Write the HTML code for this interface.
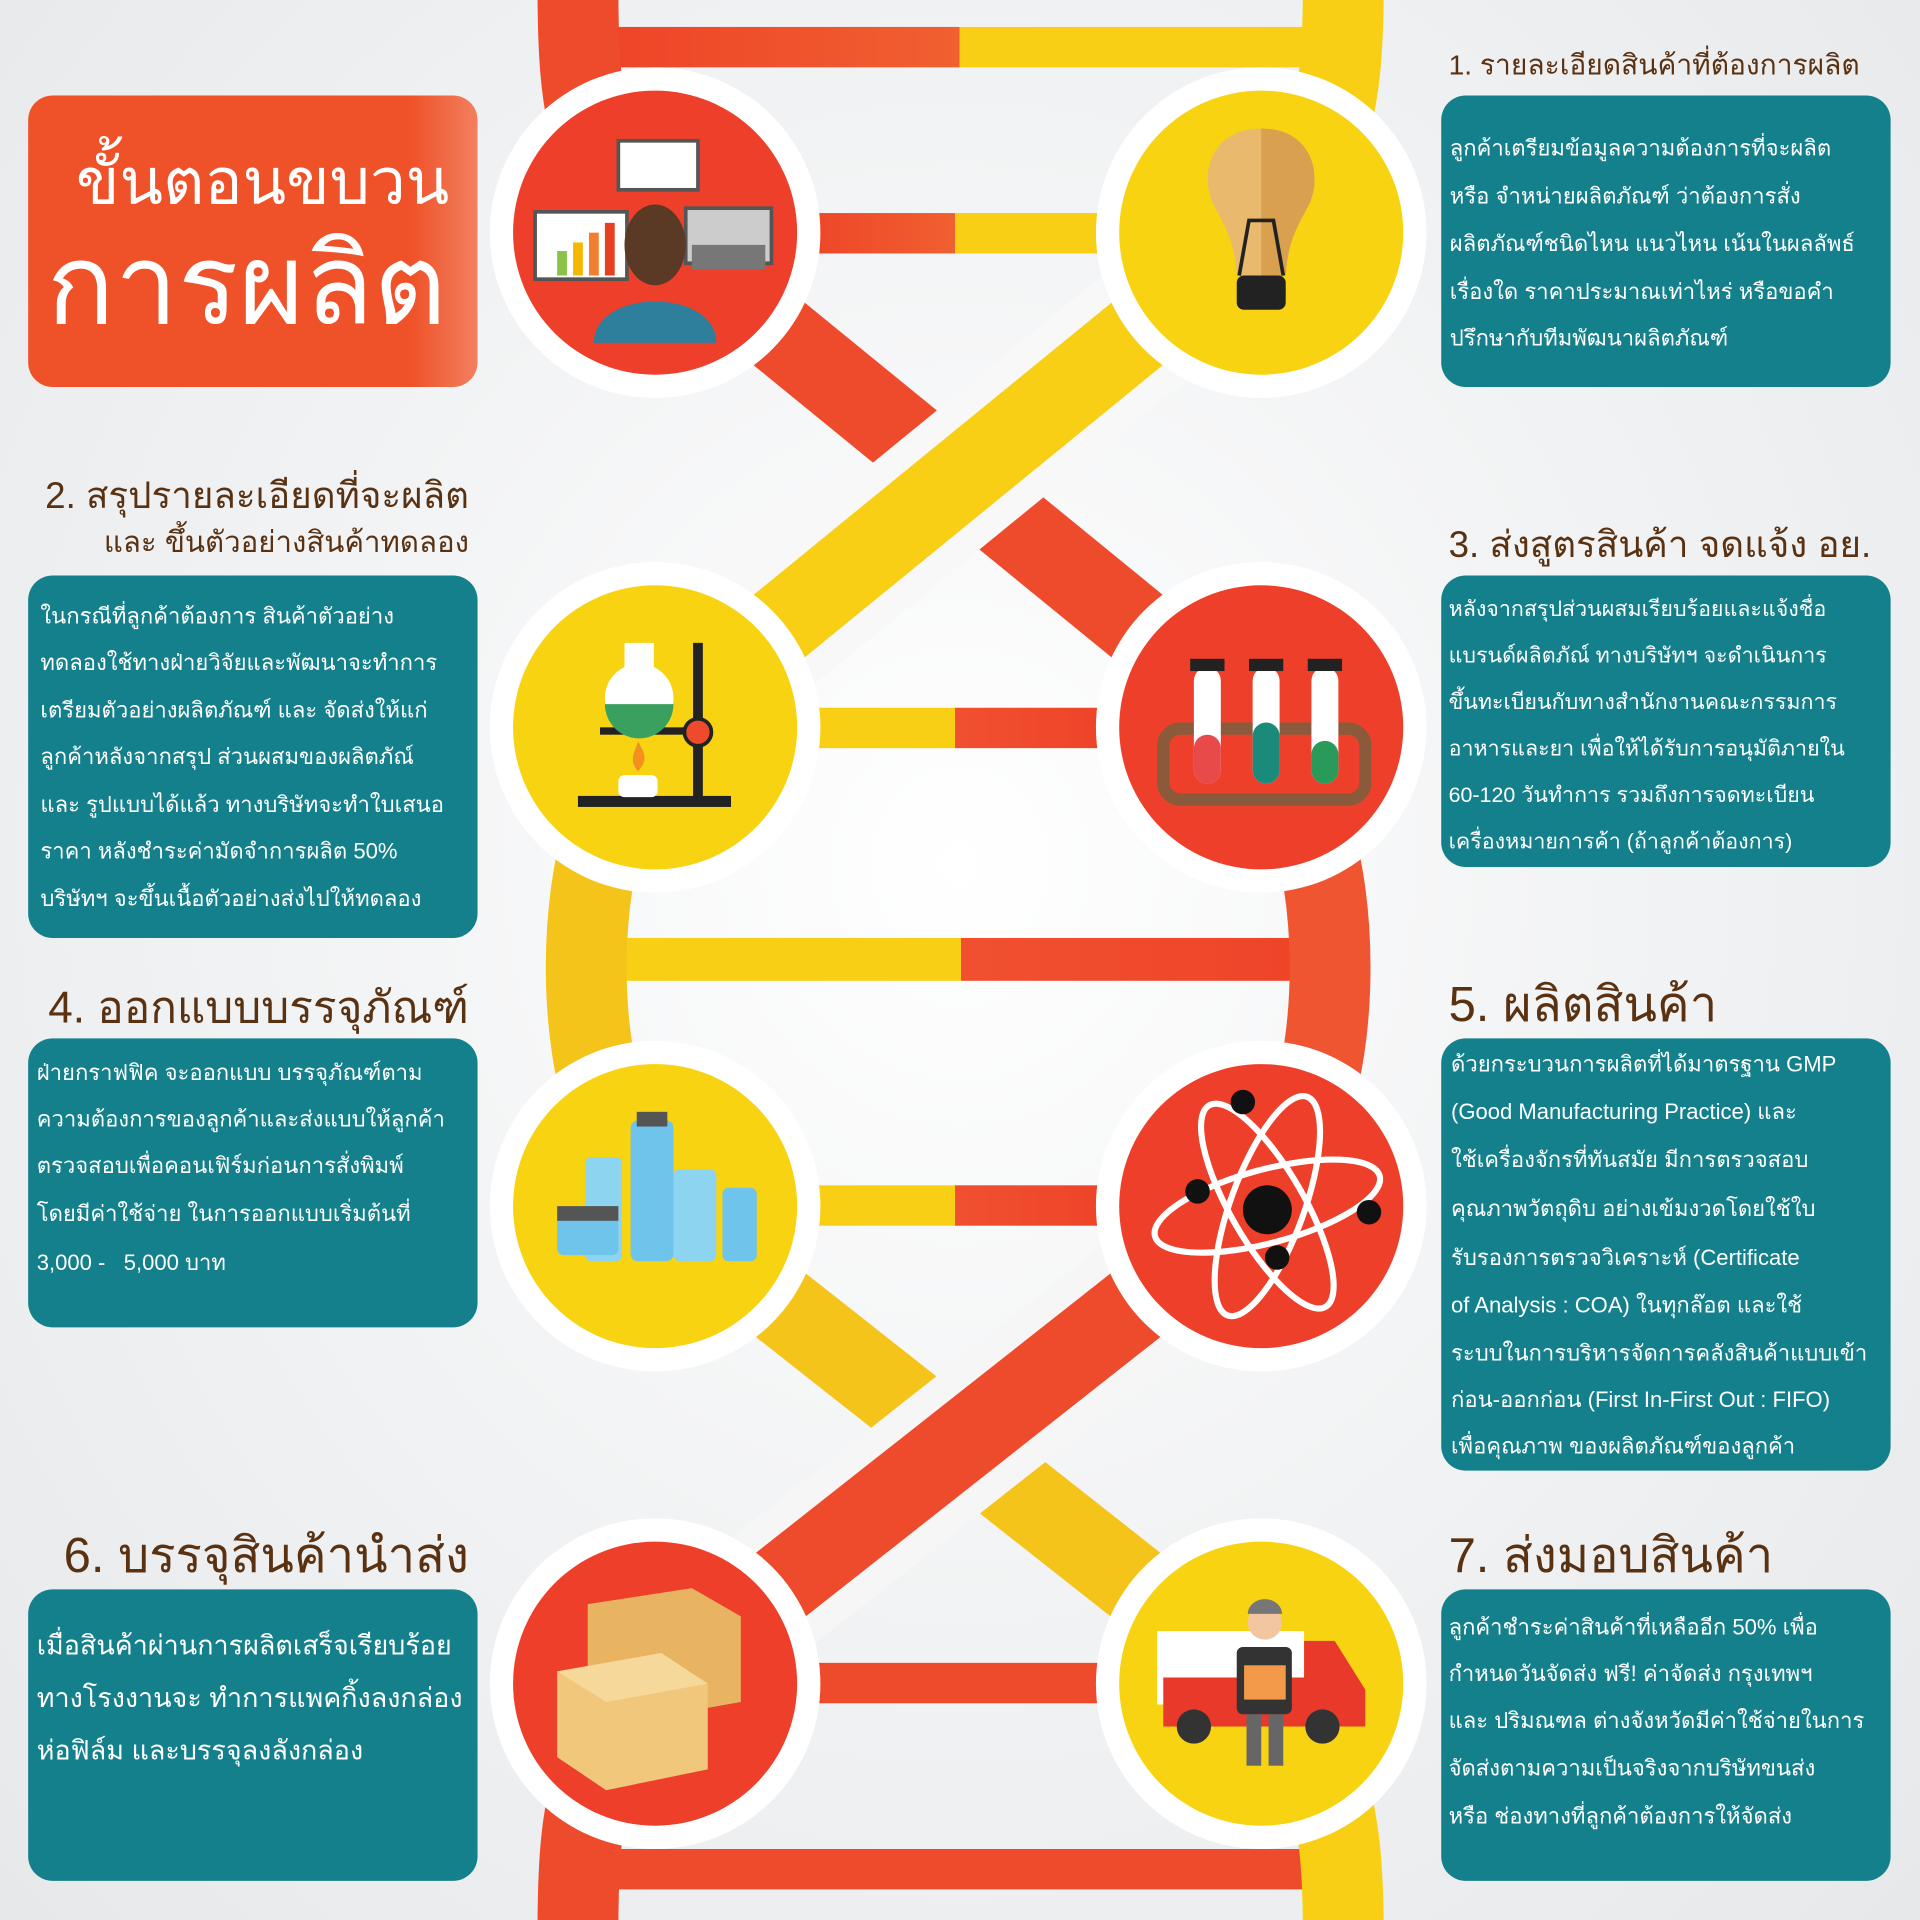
<!DOCTYPE html>
<html><head><meta charset="utf-8">
<style>
html,body{margin:0;padding:0;width:1920px;height:1920px;overflow:hidden;background:#eceef0;}
#w{position:absolute;left:0;top:0;width:1568px;height:1568px;transform:scale(1.22449);transform-origin:0 0;
background:radial-gradient(ellipse at 50% 45%,#ffffff 0%,#f4f5f6 40%,#e6e8ea 100%);
font-family:"Liberation Sans","Noto Sans CJK SC",sans-serif;}
svg{position:absolute;left:0;top:0}
.box{position:absolute;background:#13808c;border-radius:20px;}
.t{position:absolute;white-space:nowrap;color:#fff;}
.h{position:absolute;white-space:nowrap;color:#5a3212;}
.ln{position:absolute;white-space:nowrap;color:#fff;font-size:18px;}
</style></head><body><div id="w">
<svg width="1568" height="1568" viewBox="0 0 1568 1568">
<defs>
<linearGradient id="ry" x1="0" x2="1"><stop offset="0" stop-color="#ee4328"/><stop offset="0.5" stop-color="#f06030"/><stop offset="0.5" stop-color="#f8cf14"/><stop offset="1" stop-color="#f8cf14"/></linearGradient>
<linearGradient id="yr" x1="0" x2="1"><stop offset="0" stop-color="#f8cf14"/><stop offset="0.5" stop-color="#f8cf14"/><stop offset="0.5" stop-color="#f05030"/><stop offset="1" stop-color="#ee4328"/></linearGradient>
</defs>
<rect x="487" y="22" width="593" height="33" fill="url(#ry)"/>
<rect x="650" y="174" width="260" height="33" fill="url(#ry)"/>
<rect x="650" y="578" width="260" height="33" fill="url(#yr)"/>
<rect x="475" y="766" width="620" height="35" fill="url(#yr)"/>
<rect x="650" y="968" width="260" height="33" fill="url(#yr)"/>
<rect x="650" y="1358" width="260" height="33" fill="#ee4a2c"/>
<rect x="487" y="1510" width="593" height="33" fill="#ee4a2c"/>
<path d="M472 -10 C472 90 480 140 535 190" stroke="#ee4a2c" stroke-width="66" fill="none"/>
<path d="M1097 -10 C1097 90 1085 140 1030 190" stroke="#f8cf14" stroke-width="66" fill="none"/>
<path d="M535 594 C460 680 460 900 535 985" stroke="#f5c41a" stroke-width="66" fill="none"/>
<path d="M1030 594 C1105 680 1105 900 1030 985" stroke="#ee5530" stroke-width="66" fill="none"/>
<path d="M472 1578 C472 1478 480 1428 535 1375" stroke="#ee4a2c" stroke-width="66" fill="none"/>
<path d="M1097 1578 C1097 1478 1085 1428 1030 1375" stroke="#f8cf14" stroke-width="66" fill="none"/>
<line x1="535" y1="190" x2="1030" y2="594" stroke="#ee4a2c" stroke-width="66"/>
<line x1="1030" y1="190" x2="535" y2="594" stroke="#f8f8f8" stroke-width="110"/>
<line x1="1030" y1="190" x2="535" y2="594" stroke="#f8cf14" stroke-width="66"/>
<line x1="535" y1="985" x2="1030" y2="1375" stroke="#f5c41a" stroke-width="66"/>
<line x1="1030" y1="985" x2="535" y2="1375" stroke="#f6f6f7" stroke-width="110"/>
<line x1="1030" y1="985" x2="535" y2="1375" stroke="#ee4a2c" stroke-width="66"/>
<g fill="#fff">
<circle cx="535" cy="190" r="135"/><circle cx="1030" cy="190" r="135"/>
<circle cx="535" cy="594" r="135"/><circle cx="1030" cy="594" r="135"/>
<circle cx="535" cy="985" r="135"/><circle cx="1030" cy="985" r="135"/>
<circle cx="535" cy="1375" r="135"/><circle cx="1030" cy="1375" r="135"/>
</g>
<circle cx="535" cy="190" r="116" fill="#ee3f2a"/>
<circle cx="1030" cy="190" r="116" fill="#f8d312"/>
<circle cx="535" cy="594" r="116" fill="#f8d312"/>
<circle cx="1030" cy="594" r="116" fill="#ee3f2a"/>
<circle cx="535" cy="985" r="116" fill="#f8d312"/>
<circle cx="1030" cy="985" r="116" fill="#ee3f2a"/>
<circle cx="535" cy="1375" r="116" fill="#ee3f2a"/>
<circle cx="1030" cy="1375" r="116" fill="#f8d312"/>
<rect x="505" y="115" width="65" height="40" fill="#fff" stroke="#555" stroke-width="3"/>
<rect x="437" y="173" width="75" height="55" fill="#fff" stroke="#555" stroke-width="3"/>
<rect x="455" y="205" width="8" height="20" fill="#8bc34a"/><rect x="468" y="198" width="8" height="27" fill="#f5b800"/><rect x="481" y="190" width="8" height="35" fill="#f08030"/><rect x="494" y="182" width="8" height="43" fill="#e64020"/>
<rect x="560" y="170" width="70" height="45" fill="#ccc" stroke="#555" stroke-width="3"/>
<rect x="565" y="200" width="60" height="20" fill="#777"/>
<path d="M485 280 C485 235 585 235 585 280 Z" fill="#2e7f9c"/>
<ellipse cx="535" cy="200" rx="25" ry="33" fill="#5a3a25"/>
<path d="M1030 105 C990 105 980 140 990 165 C1000 185 1008 195 1010 225 L1050 225 C1052 195 1060 185 1070 165 C1080 140 1070 105 1030 105Z" fill="#e9b96d"/>
<path d="M1030 105 C1070 105 1080 140 1070 165 C1060 185 1052 195 1050 225 L1030 225Z" fill="#d9a050"/>
<rect x="1010" y="225" width="40" height="28" rx="6" fill="#222"/>
<path d="M1012 225 L1020 180 L1040 180 L1048 225" stroke="#222" stroke-width="3" fill="none"/>
<rect x="472" y="650" width="125" height="9" fill="#222"/>
<rect x="566" y="525" width="8" height="128" fill="#222"/>
<rect x="490" y="594" width="85" height="6" fill="#222"/>
<circle cx="570" cy="598" r="11" fill="#ee4a2c" stroke="#222" stroke-width="3"/>
<circle cx="522" cy="570" r="28" fill="#fff"/><rect x="510" y="525" width="24" height="25" fill="#fff"/>
<path d="M494 575 A28 28 0 0 0 550 575 Z" fill="#3aa060"/>
<rect x="505" y="633" width="32" height="18" rx="5" fill="#fff"/>
<path d="M521 630 C512 620 520 612 521 605 C526 615 530 620 521 630Z" fill="#f39020"/>
<rect x="950" y="595" width="165" height="58" rx="14" fill="none" stroke="#8a5a3a" stroke-width="10"/>
<rect x="975" y="545" width="22" height="95" rx="11" fill="#fff"/><rect x="975" y="600" width="22" height="40" rx="11" fill="#e84a4a"/>
<rect x="1023" y="545" width="22" height="95" rx="11" fill="#fff"/><rect x="1023" y="590" width="22" height="50" rx="11" fill="#1a8a7a"/>
<rect x="1071" y="545" width="22" height="95" rx="11" fill="#fff"/><rect x="1071" y="605" width="22" height="35" rx="11" fill="#2a9a5a"/>
<rect x="972" y="538" width="28" height="10" fill="#222"/><rect x="1020" y="538" width="28" height="10" fill="#222"/><rect x="1068" y="538" width="28" height="10" fill="#222"/>
<rect x="515" y="915" width="35" height="115" rx="6" fill="#6ec4ea"/>
<rect x="550" y="955" width="35" height="75" rx="5" fill="#8dd4f0"/>
<rect x="590" y="970" width="28" height="60" rx="5" fill="#6ec4ea"/>
<rect x="478" y="945" width="30" height="85" rx="5" fill="#8dd4f0"/>
<rect x="455" y="990" width="50" height="35" rx="5" fill="#6ec4ea"/>
<rect x="455" y="985" width="50" height="12" fill="#555"/>
<rect x="520" y="908" width="25" height="12" fill="#555"/>
<g fill="none" stroke="#fff" stroke-width="5">
<ellipse cx="1035" cy="985" rx="95" ry="30" transform="rotate(-15 1035 985)"/>
<ellipse cx="1035" cy="985" rx="95" ry="30" transform="rotate(60 1035 985)"/>
<ellipse cx="1035" cy="985" rx="95" ry="30" transform="rotate(-70 1035 985)"/>
</g>
<circle cx="1035" cy="988" r="20" fill="#111"/>
<circle cx="1015" cy="900" r="10" fill="#111"/><circle cx="978" cy="973" r="10" fill="#111"/><circle cx="1118" cy="990" r="10" fill="#111"/><circle cx="1043" cy="1027" r="10" fill="#111"/>
<polygon points="480,1310 565,1297 605,1320 605,1390 520,1405 480,1380" fill="#e9b462"/>
<polygon points="455,1365 540,1350 578,1375 578,1445 495,1462 455,1435" fill="#f0c77b"/>
<polygon points="455,1365 540,1350 578,1375 495,1390" fill="#f6d89a"/>
<rect x="945" y="1332" width="120" height="60" fill="#fff"/>
<path d="M950 1392 L950 1370 L1065 1370 L1065 1340 L1090 1340 L1115 1380 L1115 1410 L950 1410Z" fill="#e8392a"/>
<circle cx="975" cy="1410" r="14" fill="#333"/><circle cx="1080" cy="1410" r="14" fill="#333"/>
<rect x="1010" y="1345" width="45" height="55" rx="5" fill="#333"/>
<rect x="1016" y="1360" width="34" height="28" fill="#f39a4a"/>
<rect x="1018" y="1400" width="12" height="42" fill="#666"/><rect x="1036" y="1400" width="12" height="42" fill="#666"/>
<circle cx="1033" cy="1325" r="14" fill="#f2c6a0"/><path d="M1019 1318 A14 12 0 0 1 1047 1318Z" fill="#777"/>
</svg>

<div class="box" style="left:23px;top:78px;width:367px;height:238px;background:linear-gradient(90deg,#ef5128 85%,#f28060 100%);"></div>
<div class="t" style="left:62px;top:106px;font-size:52px;">ขั้นตอนขบวน</div>
<div class="t" style="left:38px;top:178px;font-size:92px;line-height:110px;">การผลิต</div>

<div class="h" style="right:1185px;top:382px;font-size:30px;">2. สรุปรายละเอียดที่จะผลิต</div>
<div class="h" style="right:1185px;top:423px;font-size:24px;">และ ขึ้นตัวอย่างสินค้าทดลอง</div>
<div class="box" style="left:23px;top:470px;width:367px;height:296px;"></div>
<div class="ln" style="left:33px;top:488px;">ในกรณีที่ลูกค้าต้องการ สินค้าตัวอย่าง</div>
<div class="ln" style="left:33px;top:526px;">ทดลองใช้ทางฝ่ายวิจัยและพัฒนาจะทำการ</div>
<div class="ln" style="left:33px;top:565px;">เตรียมตัวอย่างผลิตภัณฑ์ และ จัดส่งให้แก่</div>
<div class="ln" style="left:33px;top:603px;">ลูกค้าหลังจากสรุป ส่วนผสมของผลิตภัณ์</div>
<div class="ln" style="left:33px;top:642px;">และ รูปแบบได้แล้ว ทางบริษัทจะทำใบเสนอ</div>
<div class="ln" style="left:33px;top:680px;">ราคา หลังชำระค่ามัดจำการผลิต 50%</div>
<div class="ln" style="left:33px;top:719px;">บริษัทฯ จะขึ้นเนื้อตัวอย่างส่งไปให้ทดลอง</div>

<div class="h" style="right:1185px;top:794px;font-size:36px;">4. ออกแบบบรรจุภัณฑ์</div>
<div class="box" style="left:23px;top:848px;width:367px;height:236px;"></div>
<div class="ln" style="left:30px;top:861px;">ฝ่ายกราฟฟิค จะออกแบบ บรรจุภัณฑ์ตาม</div>
<div class="ln" style="left:30px;top:899px;">ความต้องการของลูกค้าและส่งแบบให้ลูกค้า</div>
<div class="ln" style="left:30px;top:937px;">ตรวจสอบเพื่อคอนเฟิร์มก่อนการสั่งพิมพ์</div>
<div class="ln" style="left:30px;top:976px;">โดยมีค่าใช้จ่าย ในการออกแบบเริ่มต้นที่</div>
<div class="ln" style="left:30px;top:1016px;">3,000 -&nbsp;&nbsp; 5,000 บาท</div>

<div class="h" style="right:1185px;top:1238px;font-size:40px;">6. บรรจุสินค้านำส่ง</div>
<div class="box" style="left:23px;top:1298px;width:367px;height:238px;"></div>
<div class="ln" style="left:30px;top:1326px;font-size:22px;">เมื่อสินค้าผ่านการผลิตเสร็จเรียบร้อย</div>
<div class="ln" style="left:30px;top:1369px;font-size:22px;">ทางโรงงานจะ ทำการแพคกิ้งลงกล่อง</div>
<div class="ln" style="left:30px;top:1412px;font-size:22px;">ห่อฟิล์ม และบรรจุลงลังกล่อง</div>

<div class="h" style="left:1183px;top:36px;font-size:23px;">1. รายละเอียดสินค้าที่ต้องการผลิต</div>
<div class="box" style="left:1177px;top:78px;width:367px;height:238px;"></div>
<div class="ln" style="left:1184px;top:106px;">ลูกค้าเตรียมข้อมูลความต้องการที่จะผลิต</div>
<div class="ln" style="left:1184px;top:145px;">หรือ จำหน่ายผลิตภัณฑ์ ว่าต้องการสั่ง</div>
<div class="ln" style="left:1184px;top:184px;">ผลิตภัณฑ์ชนิดไหน แนวไหน เน้นในผลลัพธ์</div>
<div class="ln" style="left:1184px;top:223px;">เรื่องใด ราคาประมาณเท่าไหร่ หรือขอคำ</div>
<div class="ln" style="left:1184px;top:261px;">ปรึกษากับทีมพัฒนาผลิตภัณฑ์</div>

<div class="h" style="left:1183px;top:422px;font-size:30px;">3. ส่งสูตรสินค้า จดแจ้ง อย.</div>
<div class="box" style="left:1177px;top:470px;width:367px;height:238px;"></div>
<div class="ln" style="left:1183px;top:483px;font-size:17.5px;">หลังจากสรุปส่วนผสมเรียบร้อยและแจ้งชื่อ</div>
<div class="ln" style="left:1183px;top:521px;font-size:17.5px;">แบรนด์ผลิตภัณ์ ทางบริษัทฯ จะดำเนินการ</div>
<div class="ln" style="left:1183px;top:559px;font-size:17.5px;">ขึ้นทะเบียนกับทางสำนักงานคณะกรรมการ</div>
<div class="ln" style="left:1183px;top:597px;font-size:17.5px;">อาหารและยา เพื่อให้ได้รับการอนุมัติภายใน</div>
<div class="ln" style="left:1183px;top:635px;font-size:17.5px;">60-120 วันทำการ รวมถึงการจดทะเบียน</div>
<div class="ln" style="left:1183px;top:673px;font-size:17.5px;">เครื่องหมายการค้า (ถ้าลูกค้าต้องการ)</div>

<div class="h" style="left:1183px;top:788px;font-size:40px;">5. ผลิตสินค้า</div>
<div class="box" style="left:1177px;top:848px;width:367px;height:353px;"></div>
<div class="ln" style="left:1185px;top:854px;">ด้วยกระบวนการผลิตที่ได้มาตรฐาน GMP</div>
<div class="ln" style="left:1185px;top:893px;">(Good Manufacturing Practice) และ</div>
<div class="ln" style="left:1185px;top:932px;">ใช้เครื่องจักรที่ทันสมัย มีการตรวจสอบ</div>
<div class="ln" style="left:1185px;top:972px;">คุณภาพวัตถุดิบ อย่างเข้มงวดโดยใช้ใบ</div>
<div class="ln" style="left:1185px;top:1012px;">รับรองการตรวจวิเคราะห์ (Certificate</div>
<div class="ln" style="left:1185px;top:1051px;">of Analysis : COA) ในทุกล๊อต และใช้</div>
<div class="ln" style="left:1185px;top:1090px;">ระบบในการบริหารจัดการคลังสินค้าแบบเข้า</div>
<div class="ln" style="left:1185px;top:1128px;">ก่อน-ออกก่อน (First In-First Out : FIFO)</div>
<div class="ln" style="left:1185px;top:1166px;">เพื่อคุณภาพ ของผลิตภัณฑ์ของลูกค้า</div>

<div class="h" style="left:1183px;top:1238px;font-size:40px;">7. ส่งมอบสินค้า</div>
<div class="box" style="left:1177px;top:1298px;width:367px;height:238px;"></div>
<div class="ln" style="left:1183px;top:1314px;">ลูกค้าชำระค่าสินค้าที่เหลืออีก 50% เพื่อ</div>
<div class="ln" style="left:1183px;top:1352px;">กำหนดวันจัดส่ง ฟรี! ค่าจัดส่ง กรุงเทพฯ</div>
<div class="ln" style="left:1183px;top:1390px;">และ ปริมณฑล ต่างจังหวัดมีค่าใช้จ่ายในการ</div>
<div class="ln" style="left:1183px;top:1429px;">จัดส่งตามความเป็นจริงจากบริษัทขนส่ง</div>
<div class="ln" style="left:1183px;top:1468px;">หรือ ช่องทางที่ลูกค้าต้องการให้จัดส่ง</div>
</div></body></html>
